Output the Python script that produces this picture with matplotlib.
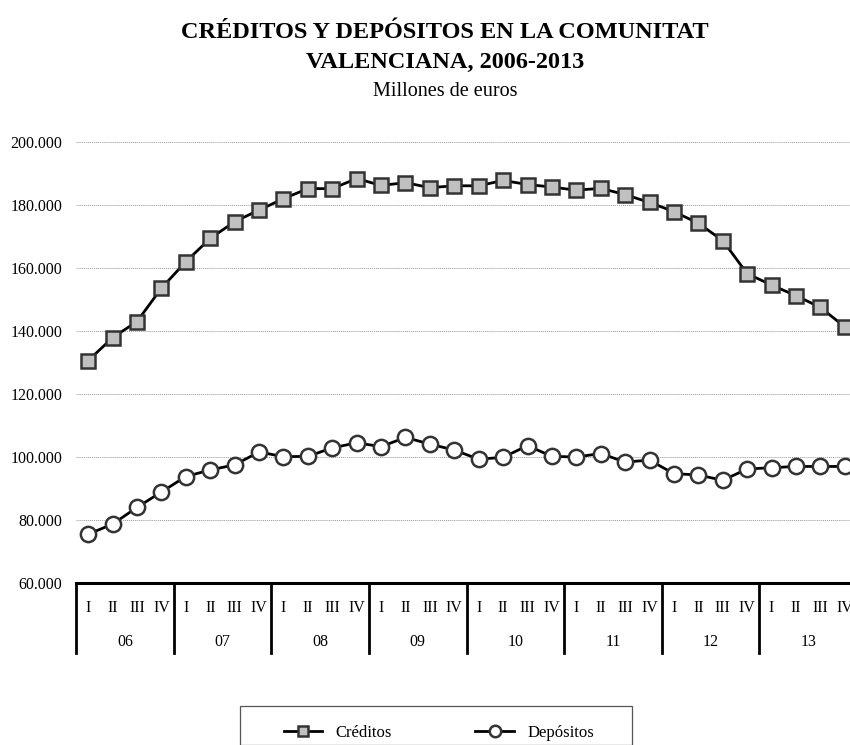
import matplotlib
matplotlib.use("Agg")
import matplotlib.pyplot as plt
import matplotlib.transforms as mtransforms
from matplotlib.patches import Rectangle

plt.rcParams['font.family'] = ['Liberation Serif', 'DejaVu Serif']

years = ["06", "07", "08", "09", "10", "11", "12", "13"]
quarters = ["I", "II", "III", "IV"]

creditos = [130.6, 137.9, 143.0, 153.6, 162.0, 169.4, 174.7, 178.4,
            182.0, 185.2, 185.2, 188.4, 186.2, 187.1, 185.5, 186.1,
            186.1, 187.8, 186.5, 185.7, 184.7, 185.3, 183.3, 180.8,
            177.9, 174.2, 168.7, 158.2, 154.6, 151.2, 147.5, 141.3]
depositos = [75.5, 78.7, 84.0, 88.9, 93.8, 95.9, 97.5, 101.6,
             100.1, 100.2, 102.9, 104.5, 103.3, 106.2, 104.1, 102.2,
             99.3, 99.9, 103.6, 100.2, 100.0, 101.1, 98.4, 99.0,
             94.7, 94.3, 92.6, 96.2, 96.6, 97.0, 97.0, 97.0]
creditos = [v * 1000 for v in creditos]
depositos = [v * 1000 for v in depositos]

yticks = [60000, 80000, 100000, 120000, 140000, 160000, 180000, 200000]

W, H = 850, 745
fig = plt.figure(figsize=(W / 100, H / 100), dpi=100)
left, right, top, bottom = 76, 857, 142, 583
ax = fig.add_axes([left / W, (H - bottom) / H, (right - left) / W, (bottom - top) / H])

n = len(creditos)
x = list(range(n))
ax.plot(x, creditos, color='black', lw=2, marker='s', ms=10.5,
        mfc='#C0C0C0', mec='#333333', mew=1.8, label='Créditos', zorder=3)
ax.plot(x, depositos, color='black', lw=2, marker='o', ms=11,
        mfc='white', mec='#333333', mew=1.8, label='Depósitos', zorder=3)

ax.set_xlim(-0.5, n - 0.5)
ax.set_ylim(60000, 200000)
ax.set_yticks(yticks)
ax.set_yticklabels([f"{v // 1000}.000" for v in yticks], fontsize=11.5)
ax.tick_params(axis='y', length=0, pad=10)
ax.set_xticks([])
for y in yticks[1:]:
    ax.axhline(y, color='#999999', lw=0.7, ls=(0, (1, 1)), zorder=1)
for s in ['top', 'right', 'left']:
    ax.spines[s].set_visible(False)
ax.spines['bottom'].set_linewidth(2.2)

trans = mtransforms.blended_transform_factory(ax.transData, ax.transAxes)
ph = bottom - top
for k in range(len(years) + 1):
    xb = -0.5 + 4 * k
    ax.plot([xb, xb], [0, -70 / ph], transform=trans, color='black', lw=2, clip_on=False)
for i in range(n):
    ax.text(i, -25 / ph, quarters[i % 4], transform=trans, ha='center', va='center', fontsize=11.5)
for k, yr in enumerate(years):
    ax.text(1.5 + 4 * k, -59 / ph, yr, transform=trans, ha='center', va='center', fontsize=11.5)

fig.text(445 / W, 1 - 32 / H, "CRÉDITOS Y DEPÓSITOS EN LA COMUNITAT", ha='center', va='center',
         fontsize=17.5, fontweight='bold')
fig.text(445 / W, 1 - 62 / H, "VALENCIANA, 2006-2013", ha='center', va='center',
         fontsize=17.5, fontweight='bold')
fig.text(445 / W, 1 - 91 / H, "Millones de euros", ha='center', va='center', fontsize=14.5)

# legend frame drawn separately (wide, clipped at bottom edge)
fig.patches.append(Rectangle((240 / W, 0), (632 - 240) / W, (H - 713) / H + 0.01,
                             transform=fig.transFigure, fill=False, edgecolor='#555555',
                             lw=0.9))
leg = fig.legend(loc='center', bbox_to_anchor=(439 / W, 1 - 733 / H), ncol=2,
                 fontsize=12, frameon=False,
                 handlelength=2.3, columnspacing=5.0, handletextpad=0.8, markerscale=0.75)

fig.savefig("out.png", dpi=100)
